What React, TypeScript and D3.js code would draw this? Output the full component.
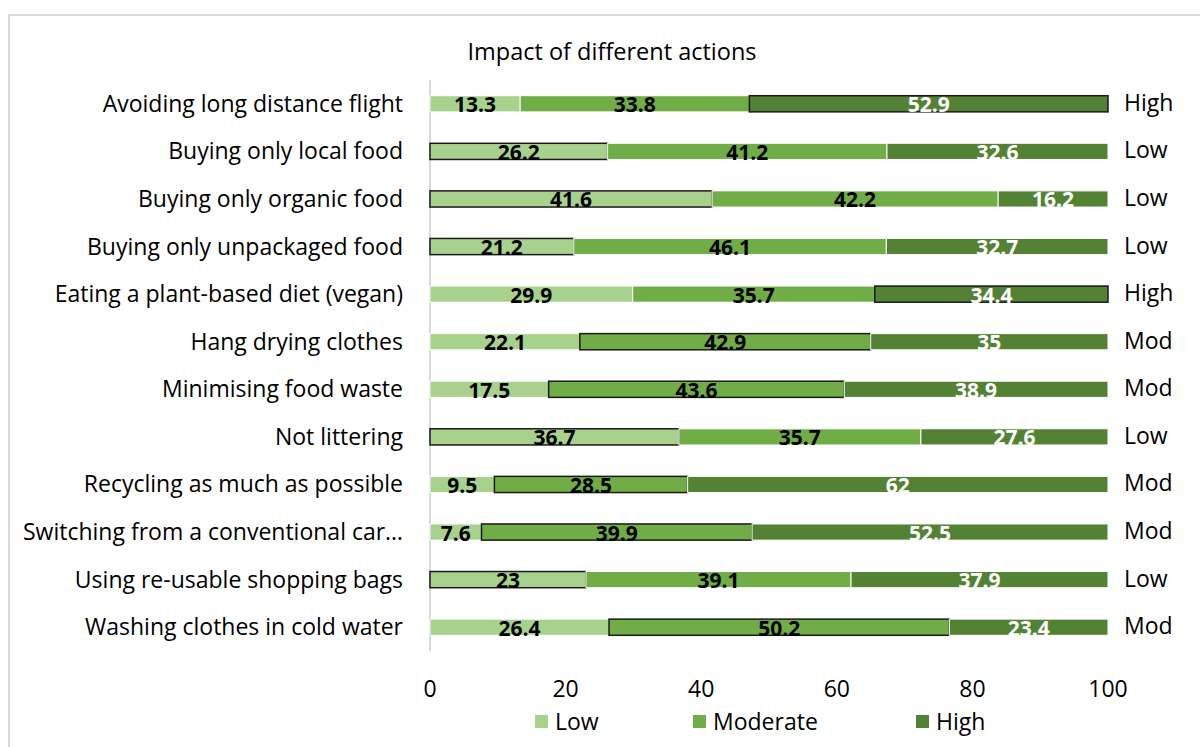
import { useEffect, useRef } from 'react';
import * as d3 from 'd3';

// chart data
const actions = [
  'Avoiding long distance flight',
  'Buying only local food',
  'Buying only organic food',
  'Buying only unpackaged food',
  'Eating a plant-based diet (vegan)',
  'Hang drying clothes',
  'Minimising food waste',
  'Not littering',
  'Recycling as much as possible',
  'Switching from a conventional car…',
  'Using re-usable shopping bags',
  'Washing clothes in cold water',
];
const lowValues = [13.3, 26.2, 41.6, 21.2, 29.9, 22.1, 17.5, 36.7, 9.5, 7.6, 23, 26.4];
const moderateValues = [33.8, 41.2, 42.2, 46.1, 35.7, 42.9, 43.6, 35.7, 28.5, 39.9, 39.1, 50.2];
const highValues = [52.9, 32.6, 16.2, 32.7, 34.4, 35, 38.9, 27.6, 62, 52.5, 37.9, 23.4];
// expert rating for each action (outlined segment)
const ratings = ['High', 'Low', 'Low', 'Low', 'High', 'Mod', 'Mod', 'Low', 'Mod', 'Mod', 'Low', 'Mod'];
const seriesNames = ['Low', 'Moderate', 'High'];
const xTicks = [0, 20, 40, 60, 80, 100];

const colors = ['#A9D18E', '#70AD47', '#548235'];
const labelColors = ['#000000', '#000000', '#ffffff'];
const FONT = '"Open Sans", "Noto Sans", sans-serif';

const App = () => {
  const svgRef = useRef<SVGSVGElement>(null);

  useEffect(() => {
    if (!svgRef.current) return;
    const svg = d3.select(svgRef.current);
    svg.selectAll('*').remove();

    const width = 1200;
    const height = 747;

    // chart frame
    svg.append('rect')
      .attr('x', 9).attr('y', 15)
      .attr('width', width + 20).attr('height', height + 20)
      .attr('fill', '#fff')
      .attr('stroke', '#d9d9d9')
      .attr('stroke-width', 2);

    svg.append('text')
      .attr('x', 612).attr('y', 60)
      .attr('text-anchor', 'middle')
      .attr('font-family', FONT)
      .attr('font-size', 23.5)
      .attr('fill', '#000')
      .text('Impact of different actions');

    const x = d3.scaleLinear().domain([0, 100]).range([430, 1108]);
    const y = d3.scaleBand<string>()
      .domain(actions)
      .range([80, 651])
      .paddingInner(0.66)
      .paddingOuter(0.33);

    const rows = actions.map((name, i) => ({
      name,
      Low: lowValues[i],
      Moderate: moderateValues[i],
      High: highValues[i],
      rating: ratings[i],
    }));
    const stacked = d3.stack<any>().keys(seriesNames)(rows);

    // axis line
    svg.append('line')
      .attr('x1', x(0)).attr('x2', x(0))
      .attr('y1', 80).attr('y2', 651)
      .attr('stroke', '#d9d9d9')
      .attr('stroke-width', 2);

    const ratingKey: Record<string, string> = { Low: 'Low', Mod: 'Moderate', High: 'High' };

    stacked.forEach((layer, si) => {
      const g = svg.append('g');
      g.selectAll('rect')
        .data(layer)
        .enter()
        .append('rect')
        .attr('x', d => x(d[0]))
        .attr('y', d => y(d.data.name)!)
        .attr('width', d => x(d[1]) - x(d[0]))
        .attr('height', y.bandwidth())
        .attr('fill', colors[si])
        .attr('stroke', d => ratingKey[d.data.rating] === layer.key ? '#1a1a1a' : '#ffffff')
        .attr('stroke-width', d => ratingKey[d.data.rating] === layer.key ? 1.5 : 1);

      g.selectAll('text')
        .data(layer)
        .enter()
        .append('text')
        .attr('x', d => (x(d[0]) + x(d[1])) / 2)
        .attr('y', d => y(d.data.name)! + y.bandwidth() / 2 + 8.5)
        .attr('text-anchor', 'middle')
        .attr('font-family', FONT)
        .attr('font-weight', 'bold')
        .attr('font-size', 21)
        .attr('fill', labelColors[si])
        .text(d => String(d.data[layer.key]));
    });

    // category labels
    svg.append('g').selectAll('text')
      .data(actions)
      .enter()
      .append('text')
      .attr('x', 403)
      .attr('y', d => y(d)! + y.bandwidth() / 2 + 8)
      .attr('text-anchor', 'end')
      .attr('font-family', FONT)
      .attr('font-size', 23)
      .attr('fill', '#000')
      .text(d => d);

    // rating labels on the right
    svg.append('g').selectAll('text')
      .data(rows)
      .enter()
      .append('text')
      .attr('x', 1124)
      .attr('y', d => y(d.name)! + y.bandwidth() / 2 + 7)
      .attr('font-family', FONT)
      .attr('font-size', 23)
      .attr('fill', '#000')
      .text(d => d.rating);

    // x tick labels
    svg.append('g').selectAll('text')
      .data(xTicks)
      .enter()
      .append('text')
      .attr('x', d => x(d))
      .attr('y', 697)
      .attr('text-anchor', 'middle')
      .attr('font-family', FONT)
      .attr('font-size', 23)
      .attr('fill', '#000')
      .text(d => String(d));

    // legend
    const legendX = [535, 693, 916];
    seriesNames.forEach((name, i) => {
      svg.append('rect')
        .attr('x', legendX[i]).attr('y', 715)
        .attr('width', 13).attr('height', 13)
        .attr('fill', colors[i]);
      svg.append('text')
        .attr('x', legendX[i] + 20).attr('y', 730)
        .attr('font-family', FONT)
        .attr('font-size', 23)
        .attr('fill', '#000')
        .text(name);
    });
  }, []);

  return (
    <div style={{ position: 'absolute', left: 0, top: 0 }}>
      <svg ref={svgRef} width={1200} height={747} style={{ display: 'block' }} />
    </div>
  );
};

export default App;
